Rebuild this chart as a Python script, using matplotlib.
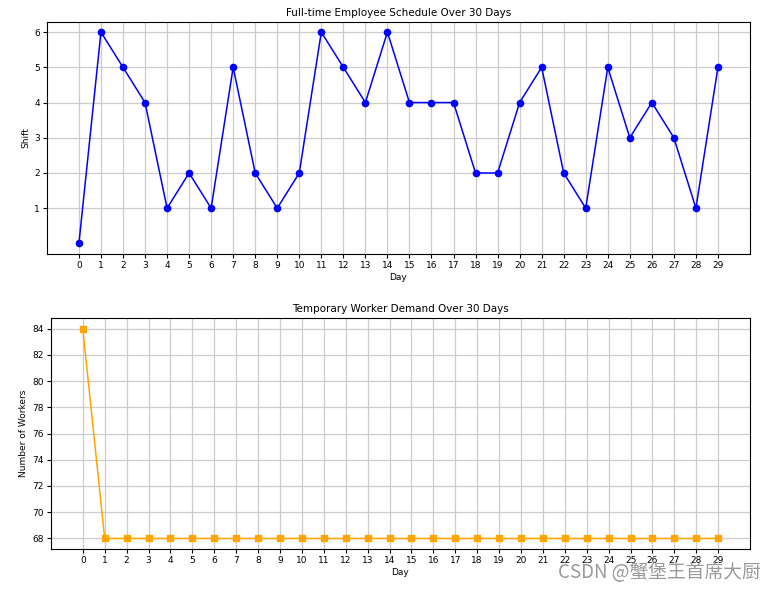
import matplotlib
matplotlib.use("Agg")
import matplotlib.pyplot as plt

days = list(range(30))
shifts = [0, 6, 5, 4, 1, 2, 1, 5, 2, 1, 2, 6, 5, 4, 6, 4, 4, 4, 2, 2, 4, 5, 2, 1, 5, 3, 4, 3, 1, 5]
temp_workers = [84] + [68] * 29
shift_ticks = [1, 2, 3, 4, 5, 6]

plt.rcParams['font.size'] = 6.5
plt.rcParams['axes.titlesize'] = 7.5
plt.rcParams['axes.labelsize'] = 6.5

fig = plt.figure(figsize=(7.75, 5.9), dpi=100)

# Full-time schedule
ax1 = fig.add_axes([0.0606, 0.5695, 0.907, 0.394])
ax1.plot(days, shifts, marker='o', color='blue', linewidth=1.1, markersize=4.5)
ax1.set_title('Full-time Employee Schedule Over 30 Days', pad=4)
ax1.set_xlabel('Day', labelpad=2)
ax1.set_ylabel('Shift', labelpad=3)
ax1.set_xticks(days)
ax1.set_yticks(shift_ticks)
ax1.grid(True, color='#cccccc', linewidth=0.9)

# Temporary workers
ax2 = fig.add_axes([0.0658, 0.0695, 0.9019, 0.3915])
ax2.plot(days, temp_workers, marker='s', color='orange', linewidth=1.1, markersize=4.5)
ax2.set_title('Temporary Worker Demand Over 30 Days', pad=4)
ax2.set_xlabel('Day', labelpad=2)
ax2.set_ylabel('Number of Workers', labelpad=3)
ax2.set_xticks(days)
ax2.grid(True, color='#cccccc', linewidth=0.9)

for ax in (ax1, ax2):
    ax.tick_params(length=3, pad=2)

fig.text(0.982, 0.012, 'CSDN @蟹堡王首席大厨', ha='right', va='bottom', fontsize=13.5,
         color='#9a9a9a', family=['Noto Sans CJK SC', 'DejaVu Sans'])

fig.savefig('out.png', dpi=100)
